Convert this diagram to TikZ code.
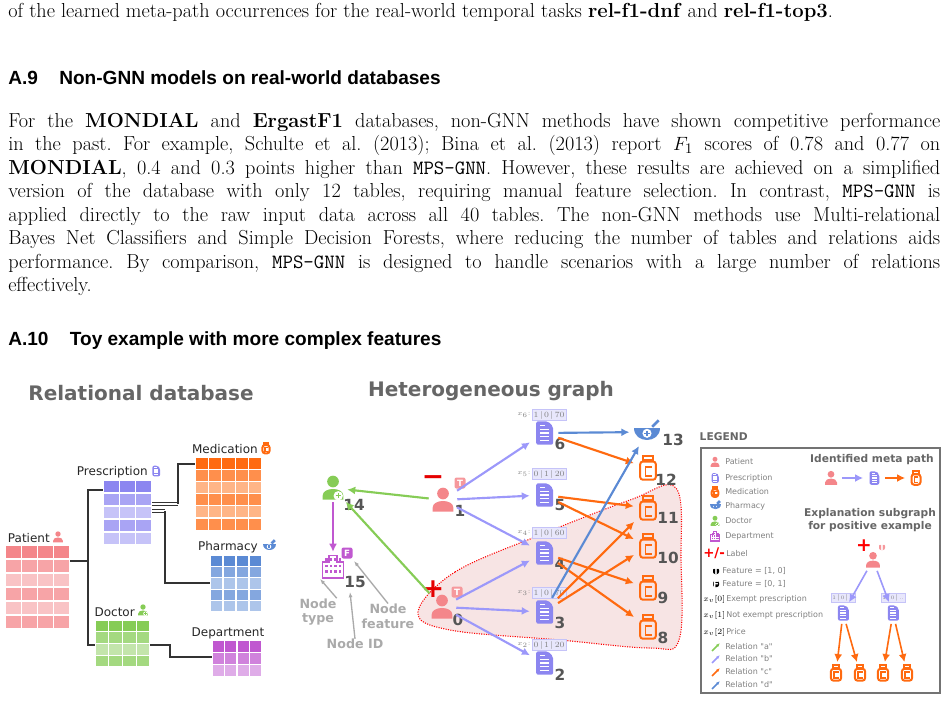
\documentclass[tikz,border=0pt]{standalone}
\usepackage{fontspec}
\usetikzlibrary{arrows.meta,calc}
\newfontfamily\hdfont{Liberation Sans}
\newfontfamily\dvs{DejaVu Sans}
\definecolor{patc}{HTML}{F4868A}
\definecolor{docc}{HTML}{8C86F0}
\definecolor{medc}{HTML}{FF6A10}
\definecolor{phac}{HTML}{5B8AD4}
\definecolor{dctc}{HTML}{86CC56}
\definecolor{depc}{HTML}{C058D0}
\definecolor{edgeb}{HTML}{9C98FA}
\definecolor{txg}{HTML}{555555}
\definecolor{lg}{HTML}{AAAAAA}
\definecolor{blobc}{HTML}{F7E4E4}
\newcommand\tgrid[8]{% x y cols rows cw ch color
  \foreach \i in {1,...,#3}{\foreach \j in {1,...,#4}{
    \pgfmathsetmacro\sh{\j==1?100:(mod(\j,2)==0?75:50)}
    \fill[#7!\sh!white,draw=white,line width=1] ({#1+(\i-1)*#5},{#2+(\j-1)*#6}) rectangle ++(#5,#6);}}
  \node[inner sep=0,minimum width={#3*#5*0.75pt},minimum height={#4*#6*0.75pt}] (#8) at ({#1+#3*#5/2},{#2+#4*#6/2}) {};}
\tikzset{
 x=0.75pt,y=-0.75pt,
 gn/.style={inner sep=0,minimum width=19pt,minimum height=19pt},
 sn/.style={inner sep=0,minimum width=14pt,minimum height=14pt},
 idl/.style={font=\dvs\bfseries\fontsize{11.5}{12}\selectfont,text=txg,inner sep=0},
 ea/.style={line width=1.6pt,-{Latex[length=6pt,width=6pt]},shorten >=1pt,shorten <=1pt},
 tline/.style={line width=0.9pt,black!80},
 tlab/.style={font=\dvs\fontsize{9}{10}\selectfont,text=black!85,inner sep=0},
 lgt/.style={font=\dvs\fontsize{6}{7}\selectfont,text=gray,anchor=west,inner sep=0},
 ann/.style={font=\dvs\bfseries\fontsize{9.5}{11}\selectfont,text=lg,align=center,inner sep=0},
 fb/.style={font=\fontsize{6}{6}\selectfont,fill=docc!20,draw=docc!50,inner sep=1pt,text=gray},
 pics/patient/.style={code={
   \fill[#1] (0,-5) circle[radius=4.5];
   \fill[#1] (-8,9) -- (-8,6) .. controls (-8,-1) and (8,-1) .. (8,6) -- (8,9) -- cycle;}},
 pics/doctor/.style={code={
   \fill[dctc] (0,-5) circle[radius=4.5];
   \fill[dctc] (-8,9) -- (-8,6) .. controls (-8,-1) and (8,-1) .. (8,6) -- (8,9) -- cycle;
   \fill[white] (4,6) circle[radius=3.6];
   \draw[dctc,line width=0.9] (2,6)--(6,6) (4,4)--(4,8);}},
 pics/doc/.style={code={
   \fill[docc,rounded corners=1.5] (-6,-9) -- (3,-9) -- (7,-5) -- (7,9) -- (-6,9) -- cycle;
   \foreach \yy in {-3,0,3,6} \draw[white,line width=0.8] (-3,\yy)--(4,\yy);
   \draw[white,line width=0.8] (-3,-6)--(1,-6);}},
 pics/med/.style={code={
   \draw[medc,line width=1.5] (-4,-9) rectangle (4,-6);
   \draw[medc,line width=1.5,rounded corners=2] (-6,-5) rectangle (6,9);
   \draw[medc,line width=1.3] (3,-1) -- (-2,-1) -- (-2,6) -- (3,6);}},
 pics/pharm/.style={code={
   \fill[phac] (-10,-3) .. controls (-10,9) and (10,9) .. (10,-3) -- cycle;
   \draw[phac,line width=2] (4,-4) -- (9,-9);
   \fill[white] (0,1) circle[radius=3.5];
   \draw[phac,line width=1] (-2,1)--(2,1) (0,-1)--(0,3);}},
 pics/dept/.style={code={
   \draw[depc,line width=1.2] (-8,9) -- (-8,-3) -- (-3,-3) -- (-3,-8) -- (3,-8) -- (3,-3) -- (8,-3) -- (8,9) -- cycle;
   \foreach \xx in {-5,-1.5,2,5.5}\foreach \yy in {-5,0,4} \fill[depc] (\xx-1,\yy-1) rectangle ++(2,2);}},
 pics/badge/.style args={#1/#2}{code={
   \fill[#1,rounded corners=1.5] (-5,-5) rectangle (5,5);
   \node[text=white,font=\dvs\bfseries\fontsize{6.5}{7}\selectfont,inner sep=0] at (0,0) {#2};}},
}
\begin{document}
\frenchspacing
\begin{tikzpicture}
\useasboundingbox (0,0) rectangle (948,717);
% ---------- text ----------
\node[anchor=west,inner sep=0,font=\fontsize{15.2}{17}\selectfont] (t0) at (8,12) {of the learned meta-path occurrences for the real-world temporal tasks \textbf{rel-f1-dnf} and \textbf{rel-f1-top3}.};
\node[anchor=west,inner sep=0,font=\hdfont\bfseries\fontsize{14.3}{16}\selectfont] (h9) at (8,78) {A.9\hspace{16pt}Non-GNN models on real-world databases};
\node[anchor=north west,inner sep=0,text width=699pt,align=justify,font=\fontsize{15.2}{17.6}\selectfont] (par) at (8,113) {For the \textbf{MONDIAL} and \textbf{ErgastF1} databases, non-GNN methods have shown competitive performance\linebreak in the past. For example, Schulte et al. (2013); Bina et al. (2013) report $F_1$ scores of 0.78 and 0.77 on\linebreak \textbf{MONDIAL}, 0.4 and 0.3 points higher than \texttt{MPS-GNN}. However, these results are achieved on a simplified\linebreak version of the database with only 12 tables, requiring manual feature selection. In contrast, \texttt{MPS-GNN} is\linebreak applied directly to the raw input data across all 40 tables. The non-GNN methods use Multi-relational\linebreak Bayes Net Classifiers and Simple Decision Forests, where reducing the number of tables and relations aids\linebreak performance. By comparison, \texttt{MPS-GNN} is designed to handle scenarios with a large number of relations\linebreak effectively.};
\node[anchor=west,inner sep=0,font=\hdfont\bfseries\fontsize{14.3}{16}\selectfont] (h10) at (8,341) {A.10\hspace{16pt}Toy example with more complex features};
% ---------- titles ----------
\node[font=\dvs\bfseries\fontsize{15}{16}\selectfont,text=black!60] (ti1) at (141,393) {Relational database};
\node[font=\dvs\bfseries\fontsize{15}{16}\selectfont,text=black!60] (ti2) at (491,391) {Heterogeneous graph};
% ---------- tables ----------
\tgrid{5}{545}{4}{6}{16.25}{14}{patc}{tpat}
\tgrid{103}{480}{3}{5}{16.3}{13}{docc}{tpre}
\tgrid{195}{457}{5}{6}{13.4}{12.2}{medc}{tmed}
\tgrid{210}{555}{4}{5}{13}{11.4}{phac}{tpha}
\tgrid{95}{620}{4}{4}{13.75}{11.75}{dctc}{tdoc}
\tgrid{212}{640}{4}{3}{12.5}{12.3}{depc}{tdep}
\node[tlab,anchor=east] (lpat) at (50,538) {Patient}; \pic[scale=0.6] at (58,537) {patient=patc};
\node[tlab,anchor=east] (lpre) at (148,472) {Prescription}; \pic[scale=0.6] at (156,471) {doc};
\node[tlab,anchor=east] (lmed) at (258,449) {Medication}; \pic[scale=0.6] at (266,448) {med};
\node[tlab,anchor=east] (lpha) at (258,547) {Pharmacy}; \pic[scale=0.65] at (269,546) {pharm};
\node[tlab,anchor=east] (ldoc) at (135,612) {Doctor}; \pic[scale=0.6] at (143,610) {doctor};
\node[tlab] (ldep) at (228,633) {Department};
\draw[tline] (tpat.east |- 0,561) -- (88,561);
\draw[tline] (tpre.west |- 0,490) -- (88,490) |- (tdoc.west |- 0,645);
\draw[tline,double,double distance=1.6pt,line width=0.6pt] (tpre.east |- 0,504) -- (178,504);
\draw[tline] (178,504) |- (tmed.west |- 0,464);
\draw[tline,double,double distance=1.6pt,line width=0.6pt] (tpre.east |- 0,511) -- (165,511);
\draw[tline] (165,511) |- (tpha.west |- 0,583);
\draw[tline] (tdoc.east |- 0,645) -- (170,645) |- (tdep.west |- 0,657);
% ---------- blob ----------
\draw[red,densely dotted,fill=blobc,line width=0.8] plot[smooth cycle,tension=0.6] coordinates {(418,612) (455,572) (540,535) (630,500) (676,488) (681,560) (679,640) (650,648) (560,640) (450,630)};
% ---------- graph nodes ----------
\node[gn] (g14) at (333,488) {}; \pic[scale=1.3] at (g14) {doctor};
\node[gn] (g15) at (333,566) {}; \pic[scale=1.3] at (g15) {dept};
\node[gn] (g1) at (443,500) {}; \pic[scale=1.3] at (g1) {patient=patc};
\node[gn] (g0) at (442,607) {}; \pic[scale=1.3] at (g0) {patient=patc};
\foreach \n/\yy in {6/433,5/495,4/553,3/612,2/663}{\node[gn] (g\n) at (544,\yy) {}; \pic[scale=1.3] at (g\n) {doc};}
\node[gn,minimum width=24pt] (g13) at (647,432) {}; \pic[scale=1.3] at (g13) {pharm};
\foreach \n/\yy in {12/468,11/508,10/546,9/588,8/627}{\node[gn] (g\n) at (648,\yy) {}; \pic[scale=1.3] at (g\n) {med};}
\node[idl] at (354,505) {14}; \node[idl] at (355,582) {15};
\node[idl] at (460,511) {1}; \node[idl] at (458,620) {0};
\foreach \n/\yy in {6/444,5/505,4/564,3/623,2/675} \node[idl] at (560,\yy) {\n};
\node[idl] at (673,440) {13}; \node[idl] at (666,480) {12}; \node[idl] at (668,518) {11};
\node[idl] at (668,558) {10}; \node[idl] at (663,598) {9}; \node[idl] at (663,638) {8};
\pic[scale=1.1] at (347,553) {badge=depc/F};
\pic[scale=1.1] at (460,483) {badge=patc!85/T}; \pic[scale=1.1] at (457,592) {badge=patc!85/T};
\node[text=red!90!black,font=\dvs\bfseries\fontsize{20}{20}\selectfont,inner sep=0] at (433,481) {\textminus};
\node[text=red!90!black,font=\dvs\bfseries\fontsize{20}{20}\selectfont,inner sep=0] at (433,589) {+};
% feature boxes
\foreach \n/\yy/\a/\b/\c in {6/415/1/0/70,5/474/0/1/20,4/533/1/0/60,3/593/1/0/70,2/645/0/1/20}{
  \node[fb,anchor=west] (f\n) at (532,\yy) {\a\,$|$\,\b\,$|$\,\c};
  \node[anchor=east,inner sep=1pt,font=\fontsize{5.5}{6}\selectfont,text=gray] at (f\n.west) {$x_{\n}$:};}
% edges
\draw[ea,dctc] (g1) -- (g14);
\draw[ea,dctc] (g0) -- (g14);
\draw[ea,depc] (g14) -- (g15);
\foreach \s/\t in {1/6,1/5,1/4,0/4,0/3,0/2} \draw[ea,edgeb] (g\s) -- (g\t);
\foreach \s/\t in {6/12,5/11,5/10,4/9,4/8,3/11,3/10} \draw[ea,medc] (g\s) -- (g\t);
\draw[ea,phac] (g6) -- (g13);
\draw[ea,phac] (g3) -- (g13);
% annotations
\node[ann] (a1) at (318,612) {Node\\type};
\node[ann] (a2) at (388,616) {Node\\feature};
\node[ann] (a3) at (355,644) {Node ID};
\draw[lg,line width=1,-{Latex[length=4pt]}] (a1.north east) -- (g15.south west);
\draw[lg,line width=1,-{Latex[length=4pt]}] (a3.north) -- (350,592);
\draw[lg,line width=1,-{Latex[length=4pt]}] (a2.north) -- (354,561);
% ---------- legend ----------
\node[font=\dvs\bfseries\fontsize{8}{9}\selectfont,text=black!60,anchor=west] (lgt) at (695,437) {LEGEND};
\draw[black!55,line width=0.8] (701,448) rectangle (940,693);
\pic[scale=0.55] at (715,462) {patient=patc}; \node[lgt] at (725,462) {Patient};
\pic[scale=0.55] at (715,478) {doc}; \node[lgt] at (725,478) {Prescription};
\pic[scale=0.55] at (715,492) {med}; \node[lgt] at (725,492) {Medication};
\pic[scale=0.55] at (715,506) {pharm}; \node[lgt] at (725,506) {Pharmacy};
\pic[scale=0.55] at (715,521) {doctor}; \node[lgt] at (725,521) {Doctor};
\pic[scale=0.55] at (715,536) {dept}; \node[lgt] at (725,536) {Department};
\node[anchor=west,inner sep=0,text=red,font=\dvs\bfseries\fontsize{10}{10}\selectfont] at (703,553) {+/-};
\node[lgt] at (726,554) {Label};
\pic[scale=0.6] at (716,571) {badge=black/T}; \node[lgt] at (722,571) {Feature = [1, 0]};
\pic[scale=0.6] at (716,584) {badge=black/F}; \node[lgt] at (722,584) {Feature = [0, 1]};
\node[anchor=west,inner sep=0,font=\fontsize{6}{7}\selectfont] at (703,599) {$x_v[0]$};
\node[lgt] at (726,599) {Exempt prescription};
\node[anchor=west,inner sep=0,font=\fontsize{6}{7}\selectfont] at (703,615) {$x_v[1]$};
\node[lgt] at (726,615) {Not exempt prescription};
\node[anchor=west,inner sep=0,font=\fontsize{6}{7}\selectfont] at (703,632) {$x_v[2]$};
\node[lgt] at (726,632) {Price};
\foreach \c/\l/\yy in {dctc/a/647,edgeb/b/659,medc/c/672,phac/d/685}{
  \draw[\c,line width=1.3,-{Latex[length=3pt]}] (712,\yy+4) -- (720,\yy-4);
  \node[lgt] at (725,\yy) {Relation "\l"};}
\node[font=\dvs\bfseries\fontsize{8}{9}\selectfont,text=black!60] at (872,460) {Identified meta path};
\node[sn] (m1) at (831,478) {}; \pic[scale=0.75] at (m1) {patient=patc};
\node[sn] (m2) at (874,478) {}; \pic[scale=0.75] at (m2) {doc};
\node[sn] (m3) at (916,478) {}; \pic[scale=0.75] at (m3) {med};
\draw[ea,edgeb,line width=1.2] (m1) -- (m2);
\draw[ea,medc,line width=1.2] (m2) -- (m3);
\node[font=\dvs\bfseries\fontsize{8}{9.5}\selectfont,text=black!60,align=center] at (870,520) {Explanation subgraph\\for positive example};
\node[sn] (s0) at (873,560) {}; \pic[scale=0.85] at (s0) {patient=patc};
\node[text=red,font=\dvs\bfseries\fontsize{14}{14}\selectfont,inner sep=0] at (864,546) {+};
\pic[scale=0.6] at (882,547) {badge=patc!85/T};
\node[sn] (s1) at (843,613) {}; \pic[scale=0.85] at (s1) {doc};
\node[sn] (s2) at (893,613) {}; \pic[scale=0.85] at (s2) {doc};
\node[fb,font=\fontsize{4}{4}\selectfont] at (843,598) {1\,$|$\,0\,$|$\,..};
\node[fb,font=\fontsize{4}{4}\selectfont] at (893,598) {1\,$|$\,0\,$|$\,..};
\draw[ea,edgeb,line width=1.2] (s0) -- (s1); \draw[ea,edgeb,line width=1.2] (s0) -- (s2);
\foreach \n/\xx in {a/836,b/860,c/883,d/907}{\node[sn] (q\n) at (\xx,673) {}; \pic[scale=0.85] at (q\n) {med};}
\draw[ea,medc,line width=1.2] (s1) -- (qa); \draw[ea,medc,line width=1.2] (s1) -- (qb);
\draw[ea,medc,line width=1.2] (s2) -- (qc); \draw[ea,medc,line width=1.2] (s2) -- (qd);
\end{tikzpicture}
\end{document}
